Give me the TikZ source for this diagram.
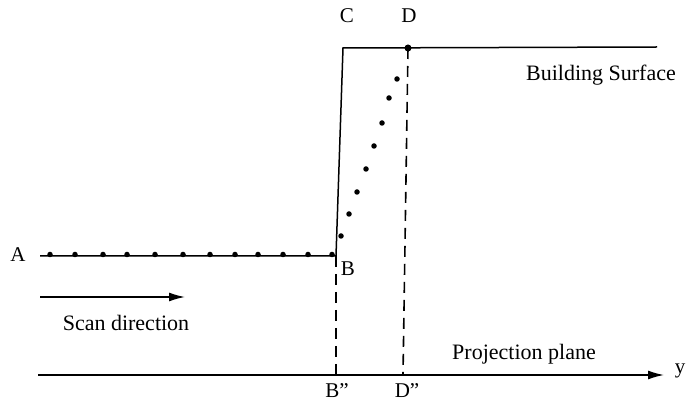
\documentclass[tikz,border=0pt]{standalone}
\usepackage{fontspec}
\setmainfont{Liberation Serif}
\usetikzlibrary{arrows.meta}
\begin{document}
\begin{tikzpicture}[x=1pt,y=-1pt,
  lbl/.style={font=\fontsize{21}{24}\selectfont, inner sep=0pt},
  txt/.style={font=\fontsize{22}{26}\selectfont, inner sep=0pt},
  surf/.style={line width=1.5pt},
  proj/.style={dash pattern=on 11pt off 7pt, line width=1.6pt},
  dotm/.style={fill=black, circle, inner sep=0pt, minimum size=5.5pt},
  arr/.style={line width=1.5pt, -{Latex[length=16pt,width=9pt]}}]
\useasboundingbox (0,0) rectangle (686,403);
% surface corners
\coordinate (Astart) at (40,256);
\coordinate (B) at (336,256);
\coordinate (Ctop) at (343,48);
\coordinate (Send) at (657,47);
\coordinate (D) at (408,48);
\coordinate (Bpp) at (336,375);
\coordinate (Dpp) at (403,375);
\coordinate (Pstart) at (38,375);
\coordinate (Pend) at (664,375);
\coordinate (S1) at (40,297);
\coordinate (S2) at (185,297);
% building surface
\draw[surf] (Astart) -- (B) -- (Ctop) -- (Send);
% projection lines
\draw[proj] (B) -- (Bpp);
\draw[proj] (D) -- (Dpp);
% projection plane
\draw[arr] (Pstart) -- (Pend);
% scan direction arrow
\draw[arr] (S1) -- (S2);
% scan points on ground
\foreach \x in {50,75,103,127,155,183,210,235,258,283,308,332}
  \node[dotm] at (\x,254.5) {};
% scan points on wall
\foreach \p in {(341,236),(349,214),(357,192),(366,169),(374,146),(382,123),(389,98),(397,79)}
  \node[dotm] at \p {};
\node[dotm, minimum size=7pt] (Ddot) at (D) {};
% labels
\node[lbl] (lA) at (18,255) {A};
\node[lbl] (lB) at (348,269) {B};
\node[lbl] (lC) at (347,16) {C};
\node[lbl] (lD) at (409,16) {D};
\node[lbl] (lBpp) at (337,391) {B''};
\node[lbl] (lDpp) at (407,391) {D''};
\node[lbl] (ly) at (680,371) {y};
\node[txt] (lScan) at (126,323) {Scan direction};
\node[txt] (lProj) at (524,354) {Projection plane};
\node[txt] (lBuild) at (601,75) {Building Surface};
\end{tikzpicture}
\end{document}
